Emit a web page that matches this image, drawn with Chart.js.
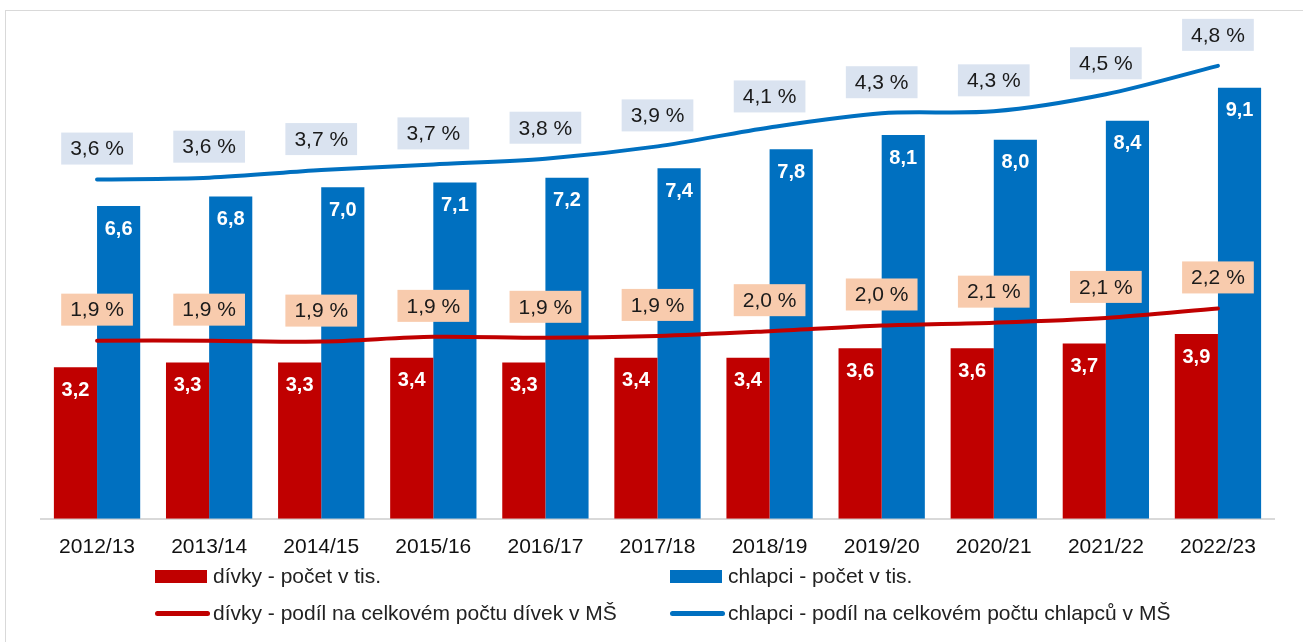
<!DOCTYPE html>
<html lang="cs">
<head>
<meta charset="utf-8">
<script src="https://cdn.jsdelivr.net/npm/chart.js@4.4.0/dist/chart.umd.min.js"></script>
<style>
  body { margin: 0; background: #fff; font-family: "Liberation Sans", Arial, sans-serif; }
  #ramecek { position: absolute; left: 5px; top: 10px; width: 1320px; height: 660px; border: 1px solid #d9d9d9; box-sizing: border-box; }
  #obal { position: absolute; left: 0; top: 0; width: 1303px; height: 568px; }
  #legenda { position: absolute; left: 155px; top: 564px; display: grid; grid-template-columns: 515px auto; row-gap: 13px; font-size: 21px; color: #222; }
  .polozka { display: flex; align-items: center; height: 24px; }
  .znacka { display: inline-block; margin-right: 4px; }
  .sloupec { width: 52px; height: 13px; margin-right: 6px; }
  .cara { width: 55px; height: 5px; border-radius: 3px; margin-right: 3px; }
</style>
</head>
<body>
<div id="ramecek"></div>
<div id="obal"><canvas id="graf"></canvas></div>
<div id="legenda"></div>
<script>
const roky = ['2012/13', '2013/14', '2014/15', '2015/16', '2016/17', '2017/18', '2018/19', '2019/20', '2020/21', '2021/22', '2022/23'];
const divkyPocet = [3.2, 3.3, 3.3, 3.4, 3.3, 3.4, 3.4, 3.6, 3.6, 3.7, 3.9];
const chlapciPocet = [6.6, 6.8, 7.0, 7.1, 7.2, 7.4, 7.8, 8.1, 8.0, 8.4, 9.1];
const divkyPodil = [1.88, 1.88, 1.87, 1.92, 1.91, 1.93, 1.98, 2.04, 2.07, 2.12, 2.22];
const chlapciPodil = [3.58, 3.60, 3.68, 3.74, 3.80, 3.93, 4.13, 4.28, 4.30, 4.48, 4.78];

const cervena = '#C00000';
const modra = '#0070C0';

function cislo(v) {
    return v.toFixed(1).replace('.', ',');
}

const popisky = {
    id: 'popisky',
    afterDatasetsDraw(chart) {
        const ctx = chart.ctx;
        ctx.save();
        ctx.textAlign = 'center';
        ctx.textBaseline = 'middle';
        chart.data.datasets.forEach((ds, i) => {
            const meta = chart.getDatasetMeta(i);
            meta.data.forEach((el, j) => {
                if (ds.type === 'bar') {
                    ctx.font = 'bold 20px "Liberation Sans", Arial';
                    ctx.fillStyle = '#fff';
                    ctx.fillText(cislo(ds.data[j]), el.x, el.y + 23);
                } else {
                    const txt = cislo(ds.data[j]) + ' %';
                    ctx.font = '21px "Liberation Sans", Arial';
                    const w = ctx.measureText(txt).width + 18;
                    const h = 32;
                    const y = el.y - 31;
                    ctx.fillStyle = ds.boxColor;
                    ctx.fillRect(el.x - w / 2, y - h / 2, w, h);
                    ctx.fillStyle = '#1a1a1a';
                    ctx.fillText(txt, el.x, y + 1);
                }
            });
        });
        ctx.restore();
    }
};

new Chart(document.getElementById('graf'), {
    type: 'bar',
    data: {
        labels: roky,
        datasets: [
            {
                type: 'line',
                label: 'chlapci - podíl na celkovém počtu chlapců v MŠ',
                data: chlapciPodil,
                yAxisID: 'y1',
                borderColor: modra,
                borderWidth: 4,
                borderCapStyle: 'round',
                tension: 0.3,
                pointRadius: 0,
                boxColor: '#dae3f0',
                order: 0
            },
            {
                type: 'line',
                label: 'dívky - podíl na celkovém počtu dívek v MŠ',
                data: divkyPodil,
                yAxisID: 'y1',
                borderColor: cervena,
                borderWidth: 4,
                borderCapStyle: 'round',
                tension: 0.3,
                pointRadius: 0,
                boxColor: '#f8cbad',
                order: 0
            },
            {
                type: 'bar',
                label: 'dívky - počet v tis.',
                data: divkyPocet,
                backgroundColor: cervena,
                order: 1
            },
            {
                type: 'bar',
                label: 'chlapci - počet v tis.',
                data: chlapciPocet,
                backgroundColor: modra,
                order: 1
            }
        ]
    },
    options: {
        responsive: true,
        maintainAspectRatio: false,
        animation: false,
        categoryPercentage: 0.77,
        barPercentage: 1,
        layout: {
            padding: { left: 41, right: 29, top: 45, bottom: 0 }
        },
        plugins: {
            legend: { display: false },
            tooltip: { enabled: false }
        },
        scales: {
            x: {
                grid: { display: false },
                border: { color: '#d9d9d9', width: 2 },
                ticks: {
                    color: '#111',
                    padding: 8,
                    font: { family: '"Liberation Sans", Arial', size: 21 }
                }
            },
            y: { display: false, min: 0, max: 10 },
            y1: { display: false, min: 0, max: 5, position: 'right' }
        }
    },
    plugins: [popisky]
});

// legenda
const polozky = [
    ['sloupec', cervena, 'dívky - počet v tis.'],
    ['sloupec', modra, 'chlapci - počet v tis.'],
    ['cara', cervena, 'dívky - podíl na celkovém počtu dívek v MŠ'],
    ['cara', modra, 'chlapci - podíl na celkovém počtu chlapců v MŠ']
];
const legenda = document.getElementById('legenda');
polozky.forEach(p => {
    const d = document.createElement('div');
    d.className = 'polozka';
    d.innerHTML = '<span class="znacka ' + p[0] + '" style="background:' + p[1] + '"></span><span>' + p[2] + '</span>';
    legenda.appendChild(d);
});
</script>
</body>
</html>
